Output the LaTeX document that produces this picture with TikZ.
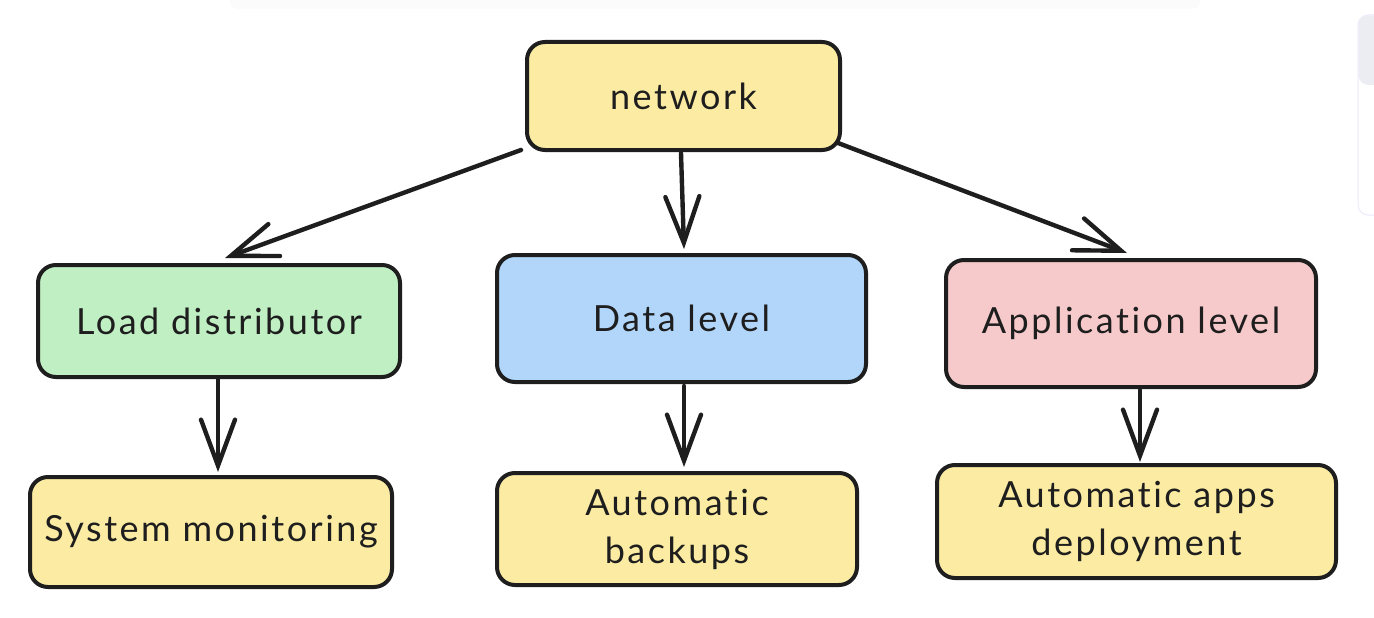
\documentclass[tikz,border=0pt]{standalone}
\usepackage{fontspec}
\setmainfont{Lato}[Ligatures={NoCommon}, LetterSpace=7]
\usetikzlibrary{arrows.meta}
\definecolor{ink}{HTML}{1E1E1E}
\definecolor{fyellow}{HTML}{FBEBA3}
\definecolor{fgreen}{HTML}{C0EFC3}
\definecolor{fblue}{HTML}{B1D6F9}
\definecolor{fpink}{HTML}{F6CACA}
\definecolor{uiline}{HTML}{ECEBFA}
\definecolor{uifill}{HTML}{ECECF3}
\definecolor{band}{HTML}{FBFBFB}
\tikzset{
  box/.style={draw=ink, line width=4pt, rounded corners=18pt, align=center,
    font=\fontsize{36}{48}\selectfont, text=ink, inner sep=0pt},
  conn/.style={draw=ink, line width=4.4pt, line cap=round,
    -{Straight Barb[length=46pt,width=34pt,line cap=round]}},
}
\begin{document}
\begin{tikzpicture}[x=1pt,y=-1pt]
\useasboundingbox[fill=white] (0,0) rectangle (1374,618);
% faint top band
\fill[band, rounded corners=8pt] (230,-10) rectangle (1200,9);
% faint UI panel at right edge
\draw[uiline, line width=1pt, rounded corners=10pt] (1358,15) rectangle (1390,215);
\fill[uifill, rounded corners=10pt] (1358.5,15.5) rectangle (1390,85);

\node[box, fill=fyellow, minimum width=313pt, minimum height=108pt] (net) at (683.5,96) {network};
\node[box, fill=fgreen, minimum width=362pt, minimum height=112pt] (load) at (219,321) {Load distributor};
\node[box, fill=fblue, minimum width=369pt, minimum height=127pt] (data) at (681.5,318.5) {Data level};
\node[box, fill=fpink, minimum width=370pt, minimum height=127pt] (app) at (1131,323.5) {Application level};
\node[box, fill=fyellow, minimum width=362pt, minimum height=110pt] (sys) at (211,532) {System monitoring};
\node[box, fill=fyellow, minimum width=360pt, minimum height=112pt] (bak) at (677,529) {Automatic\\backups};
\node[box, fill=fyellow, minimum width=399pt, minimum height=113pt] (dep) at (1136.5,521.5) {Automatic apps\\deployment};

\coordinate (s1) at (521,150); \coordinate (e1) at (225,258);
\coordinate (s2) at (681,153); \coordinate (e2) at (684,249);
\coordinate (s3) at (838,143); \coordinate (e3) at (1127,253);
\coordinate (s4) at (218,379); \coordinate (e4) at (218,472);
\coordinate (s5) at (684,386); \coordinate (e5) at (684,467);
\coordinate (s6) at (1140,390); \coordinate (e6) at (1140,462);
\draw[conn] (s1) -- (e1);
\draw[conn] (s2) -- (e2);
\draw[conn] (s3) -- (e3);
\draw[conn] (s4) -- (e4);
\draw[conn] (s5) -- (e5);
\draw[conn] (s6) -- (e6);
\end{tikzpicture}
\end{document}
